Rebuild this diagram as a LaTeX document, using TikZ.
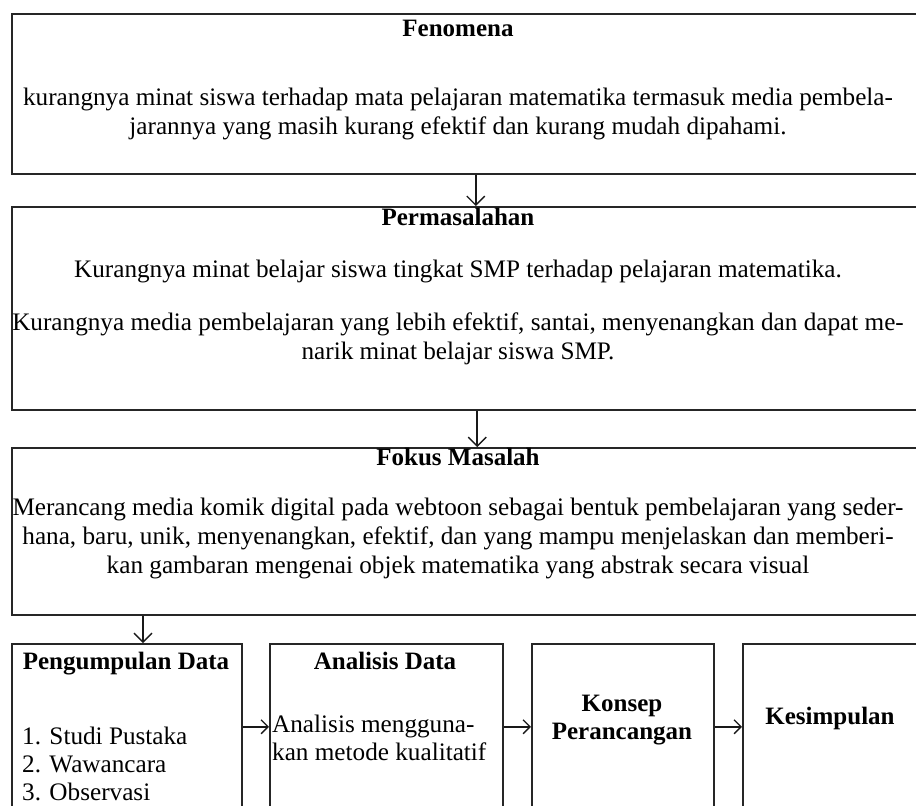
\documentclass[tikz,border=0pt]{standalone}
\usepackage{fontspec}
\setmainfont{Liberation Serif}
\usetikzlibrary{arrows.meta}
\begin{document}
\begin{tikzpicture}[x=1pt,y=-1pt,
  box/.style={draw=black!85, line width=1.5pt, inner sep=0, anchor=north west},
  ln/.style={font=\fontsize{25.2}{28.5}\selectfont, inner sep=0, anchor=base},
  lnl/.style={ln, anchor=base west},
  ttl/.style={ln, font=\fontsize{25}{28.5}\selectfont\bfseries},
  arr/.style={draw=black!90, line width=1.6pt, -{Straight Barb[length=9pt,width=18pt,line width=1.4pt]}},
  harr/.style={draw=black!90, line width=2pt, -{Straight Barb[length=7pt,width=14pt,line width=1.4pt]}}]
\useasboundingbox (0,0) rectangle (916,806);
\clip (0,0) rectangle (916,806);
% boxes
\node[box, minimum width=911pt, minimum height=160pt] (b1) at (11,13) {};
\node[box, minimum width=911pt, minimum height=203pt] (b2) at (11,206) {};
\node[box, minimum width=911pt, minimum height=167pt] (b3) at (11,447) {};
\node[box, minimum width=230pt, minimum height=166pt] (ba) at (11,643) {};
\node[box, minimum width=233pt, minimum height=166pt] (bb) at (269,643) {};
\node[box, minimum width=182pt, minimum height=166pt] (bc) at (531,643) {};
\node[box, minimum width=180pt, minimum height=166pt] (bd) at (742,643) {};
% Fenomena
\node[ttl] (t1) at (458,36) {Fenomena};
\node[ln] (f1) at (458,105) {kurangnya minat siswa terhadap mata pelajaran matematika termasuk media pembela-};
\node[ln] (f2) at (458,134) {jarannya yang masih kurang efektif dan kurang mudah dipahami.};
% Permasalahan
\node[ttl] (t2) at (458,225) {Permasalahan};
\node[ln] (p1) at (458,277) {Kurangnya minat belajar siswa tingkat SMP terhadap pelajaran matematika.};
\node[ln] (p2) at (458,330) {Kurangnya media pembelajaran yang lebih efektif, santai, menyenangkan dan dapat me-};
\node[ln] (p3) at (458,359) {narik minat belajar siswa SMP.};
% Fokus
\node[ttl] (t3) at (458,465) {Fokus Masalah};
\node[ln] (k1) at (458,515) {Merancang media komik digital pada webtoon sebagai bentuk pembelajaran yang seder-};
\node[ln] (k2) at (458,544) {hana, baru, unik, menyenangkan, efektif, dan yang mampu menjelaskan dan memberi-};
\node[ln] (k3) at (458,573) {kan gambaran mengenai objek matematika yang abstrak secara visual};
% bottom boxes
\node[ttl] (ta) at (126,669) {Pengumpulan Data};
\node[lnl] (a1) at (22,744) {1. Studi Pustaka};
\node[lnl] (a2) at (22,772) {2. Wawancara};
\node[lnl] (a3) at (22,800) {3. Observasi};
\node[ttl] (tb) at (385,669) {Analisis Data};
\node[lnl] (b1l) at (272,732) {Analisis mengguna-};
\node[lnl] (b2l) at (272,760) {kan metode kualitatif};
\node[ttl] (tc1) at (622,711) {Konsep};
\node[ttl] (tc2) at (622,739) {Perancangan};
\node[ttl] (td) at (830,724) {Kesimpulan};
% connectors
\draw[arr] ([xshift=8.5pt]b1.south) -- ([xshift=8.5pt]b2.north);
\draw[arr] ([xshift=10pt]b2.south) -- ([xshift=10pt]b3.north);
\draw[arr] ([xshift=132pt]b3.south west) -- ([xshift=132pt]ba.north west);
\draw[harr] (ba.east) -- (bb.west);
\draw[harr] (bb.east) -- (bc.west);
\draw[harr] (bc.east) -- (bd.west);
\end{tikzpicture}
\end{document}
